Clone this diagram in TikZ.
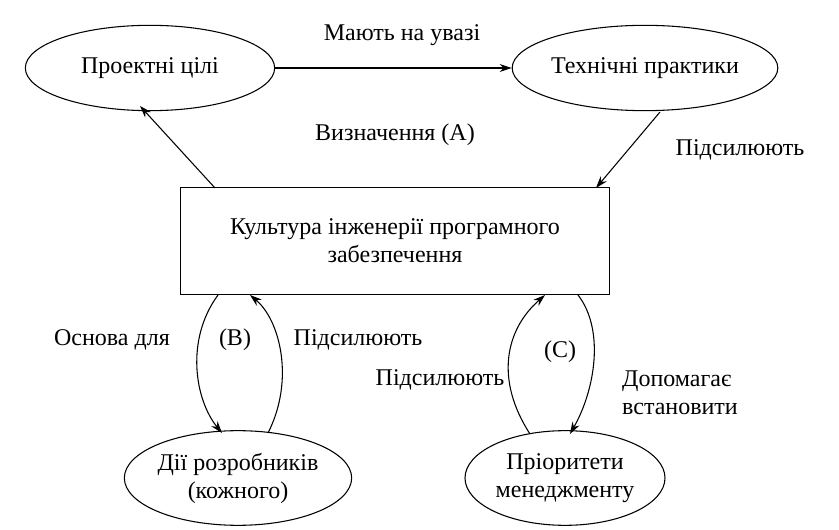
\documentclass[tikz,border=0pt]{standalone}
\usepackage{fontspec}
\setmainfont{Liberation Serif}
\usetikzlibrary{shapes.geometric,arrows.meta}
\begin{document}
\begin{tikzpicture}[x=0.75pt,y=0.75pt,yscale=-1,xscale=1,
	oval/.style={draw,ellipse,line width=0.8pt,align=center,inner sep=0pt,font=\fontsize{18}{21}\selectfont},
	lbl/.style={font=\fontsize{18}{21}\selectfont,align=left},
	conn/.style={-{Stealth[length=9pt,width=6pt]},line width=0.8pt}]
	\useasboundingbox (0,0) rectangle (839,530);
	
	% Nodes
	\node [oval,minimum width=187pt,minimum height=64pt] (aims) at (150,68) {Проектні цілі};
	\node [oval,minimum width=187pt,minimum height=64pt] (tech) at (645,68) {Технічні практики};
	\node [draw,line width=0.8pt,minimum width=322pt,minimum height=80pt,align=center,font=\fontsize{18}{21}\selectfont] (culture) at (395,241) {Культура інженерії програмного\\забезпечення};
	\node [oval,minimum width=139pt,minimum height=71pt] (devs) at (238,478) {Дії розробників\\(кожного)};
	\node [oval,minimum width=150pt,minimum height=71pt] (mgmt) at (565,478) {Пріоритети\\менеджменту};
	
	% Coordinates for curve ends
	\coordinate (cbl) at (218,295);
	\coordinate (cbr) at (250,295);
	\coordinate (cml) at (545,295);
	\coordinate (cmr) at (578,295);
	\coordinate (dl) at (222,433);
	\coordinate (dr) at (268,433);
	\coordinate (ml) at (530,434);
	\coordinate (mr) at (570,434);
	
	% Connectors
	\draw [conn] (aims) -- (tech);
	\draw [conn] (215,188) -- (140,106);
	\draw [conn] (660,112) -- (596,188);
	\draw [conn] (cbl) .. controls (185,340) and (195,400) .. (dl);
	\draw [conn] (dr) .. controls (295,380) and (280,320) .. (cbr);
	\draw [conn] (ml) .. controls (495,380) and (505,330) .. (cml);
	\draw [conn] (cmr) .. controls (605,330) and (595,390) .. (mr);
	
	% Text
	\node [lbl] (t1) at (402,35) {Мають на увазі};
	\node [lbl] (t2) at (395,135) {Визначення (А)};
	\node [lbl] (t3) at (740,150) {Підсилюють};
	\node [lbl] (t4) at (112,340) {Основа для};
	\node [lbl] (t5) at (235,340) {(B)};
	\node [lbl] (t6) at (358,340) {Підсилюють};
	\node [lbl] (t7) at (440,380) {Підсилюють};
	\node [lbl] (t8) at (560,352) {(C)};
	\node [lbl] (t9) at (680,393) {Допомагає\\встановити};
\end{tikzpicture}
\end{document}
